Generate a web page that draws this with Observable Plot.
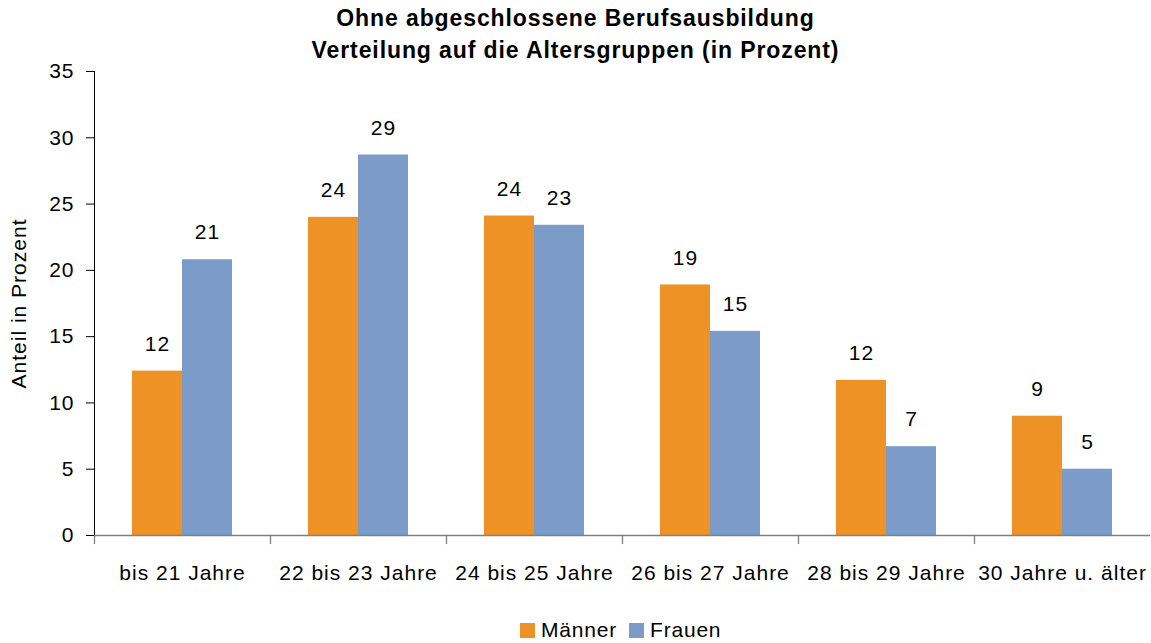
<!DOCTYPE html>
<html>
<head>
<meta charset="utf-8">
<script src="https://cdn.jsdelivr.net/npm/d3@7"></script>
<script src="https://cdn.jsdelivr.net/npm/@observablehq/plot@0.6"></script>
<style>
  body { margin: 0; background: #fff; font-family: "Liberation Sans", Arial, sans-serif; }
  #wrap { position: relative; width: 1151px; height: 643px; overflow: hidden; background: #fff; }
  #title { position: absolute; top: 2px; left: 0; width: 1151px; text-align: center; font-weight: bold; font-size: 23px; letter-spacing: 0.9px; line-height: 32px; color: #000; z-index: 2; }
  #chart { position: absolute; top: 50px; left: 0; z-index: 1; }
  #legend { position: absolute; top: 618px; left: 520px; display: flex; align-items: center; font-size: 21px; letter-spacing: 0.8px; color: #000; white-space: nowrap; }
  .sw { display: inline-block; width: 15px; height: 15px; margin-right: 6px; }
  .item { display: flex; align-items: center; margin-right: 12px; }
</style>
</head>
<body>
<div id="wrap">
  <div id="title"></div>
  <div id="chart"></div>
  <div id="legend"></div>
</div>
<script>
const titleLines = ["Ohne abgeschlossene Berufsausbildung", "Verteilung auf die Altersgruppen (in Prozent)"];
const categories = ["bis 21 Jahre", "22 bis 23 Jahre", "24 bis 25 Jahre", "26 bis 27 Jahre", "28 bis 29 Jahre", "30 Jahre u. älter"];
const series = ["Männer", "Frauen"];
const maenner = [12.4, 24.0, 24.1, 18.9, 11.7, 9.0];
const frauen = [20.8, 28.7, 23.4, 15.4, 6.7, 5.0];
const yTicks = [0, 5, 10, 15, 20, 25, 30, 35];
const yLabel = "Anteil in Prozent";
const colors = ["#EE9226", "#7B9CC8"];

const rows = categories.flatMap((c, i) => [
  {cat: c, sex: series[0], value: maenner[i]},
  {cat: c, sex: series[1], value: frauen[i]}
]);

document.getElementById("title").innerHTML = titleLines.map(t => `<div>${t}</div>`).join("");

const H = 544, mt = 21, mb = 59;
const chart = Plot.plot({
  width: 1151,
  height: H,
  marginTop: mt,
  marginBottom: mb,
  marginLeft: 92,
  marginRight: 0,
  style: {fontFamily: "'Liberation Sans', Arial, sans-serif", fontSize: "21px", letterSpacing: "1px", color: "#000", background: "transparent", overflow: "visible"},
  fx: {domain: categories, padding: 0, label: null, axis: "bottom", tickSize: 0, tickPadding: 30},
  x: {domain: series, paddingInner: 0, paddingOuter: 0.73, axis: null},
  y: {domain: [0, 35], ticks: yTicks, tickSize: 8, tickPadding: 12, label: yLabel, labelArrow: "none", labelAnchor: "center", labelOffset: 83, line: true},
  color: {domain: series, range: colors},
  marks: [
    Plot.barY(rows, {fx: "cat", x: "sex", y: "value", fill: "sex"}),
    Plot.text(rows, {fx: "cat", x: "sex", y: "value", text: d => d3.format(".0f")(d.value), dy: -27, lineAnchor: "middle", fontSize: 21, fill: "#000"}),
    Plot.ruleY([0], {stroke: "#808080", strokeWidth: 1.3}),
    Plot.frame({anchor: "left", insetTop: H - mt - mb, insetBottom: -8, stroke: "#808080", strokeWidth: 1.3})
  ]
});
document.getElementById("chart").appendChild(chart);

document.getElementById("legend").innerHTML = series.map((s, i) =>
  `<span class="item"><span class="sw" style="background:${colors[i]}"></span>${s}</span>`).join("");
</script>
</body>
</html>
